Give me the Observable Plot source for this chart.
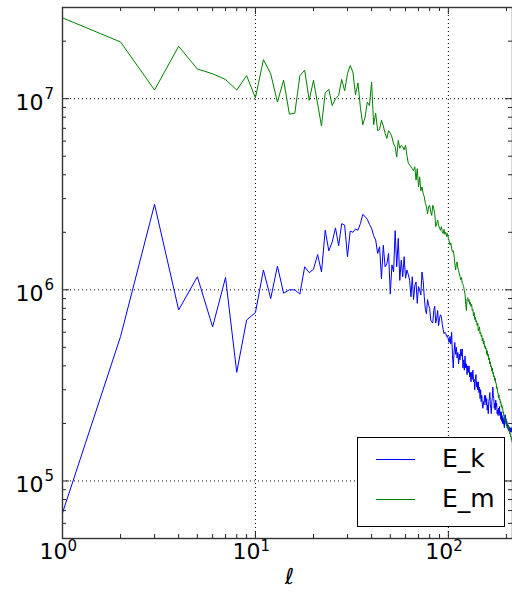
<!DOCTYPE html>
<html><head><meta charset="utf-8">
<script src="https://cdn.jsdelivr.net/npm/d3@7"></script>
<script src="https://cdn.jsdelivr.net/npm/@observablehq/plot@0.6"></script>
<style>
html,body{margin:0;padding:0;background:#fff;}
#wrap{position:relative;width:512px;height:597px;font-family:"DejaVu Sans",sans-serif;}
#legend{position:absolute;left:357px;top:437px;width:148px;height:90px;box-sizing:border-box;border:1px solid #000;background:#fff;}
.row{position:absolute;left:0;width:100%;height:40px;}
.sw{position:absolute;left:18px;width:39px;height:0;border-top:1px solid;}
.lab{position:absolute;left:84px;font-size:25px;line-height:30px;color:#000;}
</style></head><body><div id="wrap"></div>
<script>
const seriesNames = ["E_k", "E_m"];
const seriesColors = ["#0000ff", "#008000"];

const Ek = [
6.8e4,5.7e5,2.8e6,7.85e5,1.17e6,6.4e5,1.16e6,3.7e5,6.95e5,7.6e5,
1.27e6,9.0e5,1.33e6,9.6e5,1.0e6,1.0e6,9.5e5,1.32e6,1.23e6,1.28e6,
1.53e6,1.24e6,2.05e6,1.6e6,1.78e6,2.11e6,1.70e6,2.22e6,2.18e6,1.49e6,
2.03e6,2.0e6,2.08e6,2.05e6,2.22e6,2.48e6,2.42e6,2.34e6,2.2e6,2.1e6,
1.92e6,1.82e6,1.55e6,1.68e6,1.14e6,1.71e6,1.32e6,1.37e6,1.55e6,9.5e5,
1.35e6,1.24e6,2.04e6,1.32e6,1.86e6,1.12e6,1.43e6,1.17e6,1.49e6,1.15e6,
1.27e6,1.2e6,1.12e6,9.2e5,1.17e6,8.9e5,1.05e6,1.1e6,8.5e5,1.04e6,
1.0e6,9.4e5,1.24e6,1.12e6,9.2e5,7.9e5,7.5e5,8.9e5,8.3e5,8.0e5,
6.95e5,6.8e5,6.7e5,7.8e5,8.2e5,6.7e5,7.1e5,7.8e5,6.5e5,7.1e5,
7.4e5,7.2e5,6.6e5,6.2e5,5.9e5,6.0e5,5.9e5,5.7e5,5.75e5,5.5e5,
5.3e5,5.7e5,5.2e5,6.0e5,4.6e5,3.9e5,4.7e5,5.3e5,4.6e5,5.0e5,
4.4e5,4.7e5,4.1e5,4.6e5,4.3e5,4.9e5,4.5e5,4.9e5,3.9e5,4.3e5,
3.8e5,4.5e5,3.9e5,4.1e5,3.6e5,4.0e5,3.7e5,4.0e5,3.5e5,3.7e5,
3.3e5,3.7e5,3.4e5,3.8e5,3.3e5,3.4e5,3.0e5,3.4e5,3.6e5,3.1e5,
3.3e5,3.0e5,3.3e5,2.9e5,3.1e5,2.7e5,3.0e5,2.6e5,2.8e5,2.5e5,
2.4e5,2.6e5,2.5e5,2.8e5,2.6e5,2.8e5,2.5e5,2.7e5,2.35e5,2.5e5,
2.25e5,2.6e5,2.7e5,2.9e5,2.5e5,2.4e5,2.25e5,2.6e5,2.75e5,3.1e5,
2.8e5,2.7e5,2.4e5,2.55e5,2.35e5,2.65e5,2.45e5,2.55e5,2.25e5,2.35e5,
2.2e5,2.4e5,2.25e5,2.45e5,2.2e5,2.3e5,2.1e5,2.3e5,2.05e5,2.2e5,
2.0e5,2.15e5,1.98e5,2.1e5,1.9e5,2.1e5,2.22e5,2.05e5,2.12e5,1.95e5,
2.05e5,1.9e5,1.98e5,1.86e5,1.95e5,1.82e5,1.92e5,1.84e5,1.9e5,1.8e5,
1.88e5,1.8e5,1.9e5,1.82e5,1.87e5
];

const Em = [
2.65e7,1.98e7,1.11e7,1.88e7,1.43e7,1.35e7,1.26e7,1.11e7,1.32e7,1.01e7,
1.60e7,1.35e7,9.6e6,1.25e7,8.3e6,8.4e6,1.32e7,1.41e7,9.8e6,1.25e7,
9.4e6,7.2e6,1.07e7,1.12e7,9.2e6,1.0e7,1.04e7,1.26e7,1.10e7,1.35e7,
1.49e7,1.38e7,1.05e7,1.21e7,9.0e6,7.3e6,8.0e6,9.6e6,9.2e6,1.22e7,
7.3e6,8.4e6,6.8e6,6.9e6,7.7e6,7.2e6,6.6e6,6.2e6,6.8e6,6.6e6,
6.3e6,5.8e6,5.6e6,4.95e6,6.05e6,5.5e6,5.7e6,5.6e6,5.4e6,5.7e6,
5.05e6,4.6e6,4.5e6,4.4e6,4.3e6,4.2e6,4.4e6,3.75e6,4.3e6,3.45e6,
3.9e6,3.3e6,3.45e6,3.2e6,3.07e6,2.83e6,2.72e6,2.5e6,2.72e6,2.77e6,
2.56e6,2.45e6,2.77e6,2.66e6,2.5e6,2.14e6,2.22e6,2.32e6,2.18e6,2.1e6,
2.05e6,2.14e6,2.01e6,1.97e6,2.07e6,1.95e6,2.0e6,1.9e6,1.97e6,1.86e6,
1.80e6,1.72e6,1.76e6,1.64e6,1.58e6,1.60e6,1.52e6,1.38e6,1.27e6,1.36e6,
1.40e6,1.30e6,1.26e6,1.21e6,1.17e6,1.13e6,1.16e6,1.08e6,1.07e6,1.04e6,
9.9e5,9.5e5,8.4e5,7.8e5,8.9e5,9.1e5,8.7e5,8.9e5,8.4e5,8.6e5,
8.2e5,8.4e5,7.8e5,7.9e5,7.3e5,7.6e5,7.0e5,7.2e5,6.8e5,6.9e5,
6.5e5,6.7e5,6.1e5,6.3e5,6.4e5,5.9e5,6.0e5,5.7e5,5.8e5,5.4e5,
5.6e5,5.2e5,5.4e5,5.0e5,5.1e5,4.9e5,4.95e5,4.6e5,4.8e5,4.5e5,
4.6e5,4.3e5,4.4e5,4.1e5,4.2e5,3.95e5,4.0e5,3.75e5,3.9e5,3.65e5,
3.7e5,3.5e5,3.55e5,3.35e5,3.45e5,3.25e5,3.25e5,3.05e5,3.1e5,2.9e5,
2.9e5,2.72e5,2.82e5,2.65e5,2.68e5,2.55e5,2.6e5,2.45e5,2.5e5,2.4e5,
2.45e5,2.28e5,2.3e5,2.18e5,2.2e5,2.08e5,2.12e5,2.0e5,2.05e5,1.95e5,
1.98e5,1.9e5,1.93e5,1.88e5,1.95e5,1.84e5,1.85e5,1.76e5,1.78e5,1.7e5,
1.72e5,1.65e5,1.67e5,1.6e5,1.62e5
];

const xMajor = [1, 10, 100];
const xExponents = ["0", "1", "2"];
const xMinor = [2,3,4,5,6,7,8,9,20,30,40,50,60,70,80,90,200];
const yMajor = [1e5, 1e6, 1e7];
const yExponents = ["5", "6", "7"];
const yMinor = [6e4,7e4,8e4,9e4,2e5,3e5,4e5,5e5,6e5,7e5,8e5,9e5,2e6,3e6,4e6,5e6,6e6,7e6,8e6,9e6,2e7,3e7];
const xLabel = "ℓ";

const rows = [];
Ek.forEach((v, i) => rows.push({l: i + 1, v, s: seriesNames[0]}));
Em.forEach((v, i) => rows.push({l: i + 1, v, s: seriesNames[1]}));

const W = 512, H = 597, mL = 62, mR = 0, mT = 7, mB = 59;
const innerW = W - mL - mR, innerH = H - mT - mB;
const tickColor = "#222";

const chart = Plot.plot({
  width: W, height: H,
  marginLeft: mL, marginRight: mR, marginTop: mT, marginBottom: mB,
  x: {type: "log", domain: [1, 215], axis: null},
  y: {type: "log", domain: [5e4, 3e7], axis: null},
  color: {domain: seriesNames, range: seriesColors},
  style: {fontFamily: "DejaVu Sans", background: "#fff", color: "#000"},
  marks: [
    Plot.ruleX(xMajor.slice(1), {x: d => d, stroke: "#000", strokeWidth: 1, strokeDasharray: "1,3"}),
    Plot.ruleY(yMajor, {y: d => d, stroke: "#000", strokeWidth: 1, strokeDasharray: "1,3"}),
    Plot.line(rows, {x: "l", y: "v", z: "s", stroke: "s", strokeWidth: 1}),
    Plot.tickX(xMajor, {x: d => d, insetTop: innerH - 7, stroke: tickColor}),
    Plot.tickX(xMajor, {x: d => d, insetBottom: innerH - 7, stroke: tickColor}),
    Plot.tickX(xMinor, {x: d => d, insetTop: innerH - 4, stroke: tickColor}),
    Plot.tickX(xMinor, {x: d => d, insetBottom: innerH - 4, stroke: tickColor}),
    Plot.tickY(yMajor, {y: d => d, insetRight: innerW - 7, stroke: tickColor}),
    Plot.tickY(yMajor, {y: d => d, insetLeft: innerW - 7, stroke: tickColor}),
    Plot.tickY(yMinor, {y: d => d, insetRight: innerW - 4, stroke: tickColor}),
    Plot.tickY(yMinor, {y: d => d, insetLeft: innerW - 4, stroke: tickColor}),
    Plot.frame({stroke: "#333", strokeWidth: 1.4}),
    Plot.text(xMajor, {x: d => d, frameAnchor: "bottom", text: () => "10", textAnchor: "end", dx: 5, dy: 20, fontSize: 22, fill: "#000"}),
    Plot.text(xMajor, {x: d => d, frameAnchor: "bottom", text: (d, i) => xExponents[i], textAnchor: "start", dx: 5, dy: 12, fontSize: 15, fill: "#000"}),
    Plot.text(yMajor, {y: d => d, frameAnchor: "left", text: () => "10", textAnchor: "end", dx: -19, dy: 4, fontSize: 22, fill: "#000"}),
    Plot.text(yMajor, {y: d => d, frameAnchor: "left", text: (d, i) => yExponents[i], textAnchor: "start", dx: -18, dy: -5, fontSize: 15, fill: "#000"}),
    Plot.text([xLabel], {frameAnchor: "bottom", text: d => d, dx: 2, dy: 45, fontSize: 22, fontStyle: "italic", fill: "#000"})
  ]
});

const wrap = document.getElementById("wrap");
wrap.appendChild(chart);

const legend = document.createElement("div");
legend.id = "legend";
seriesNames.forEach((name, i) => {
  const row = document.createElement("div");
  row.className = "row";
  row.style.top = (2 + i * 40) + "px";
  const sw = document.createElement("div");
  sw.className = "sw";
  sw.style.top = "19px";
  sw.style.borderTopColor = seriesColors[i];
  const lab = document.createElement("div");
  lab.className = "lab";
  lab.style.top = "4px";
  lab.textContent = name;
  row.appendChild(sw);
  row.appendChild(lab);
  legend.appendChild(row);
});
wrap.appendChild(legend);
</script>
</body></html>
